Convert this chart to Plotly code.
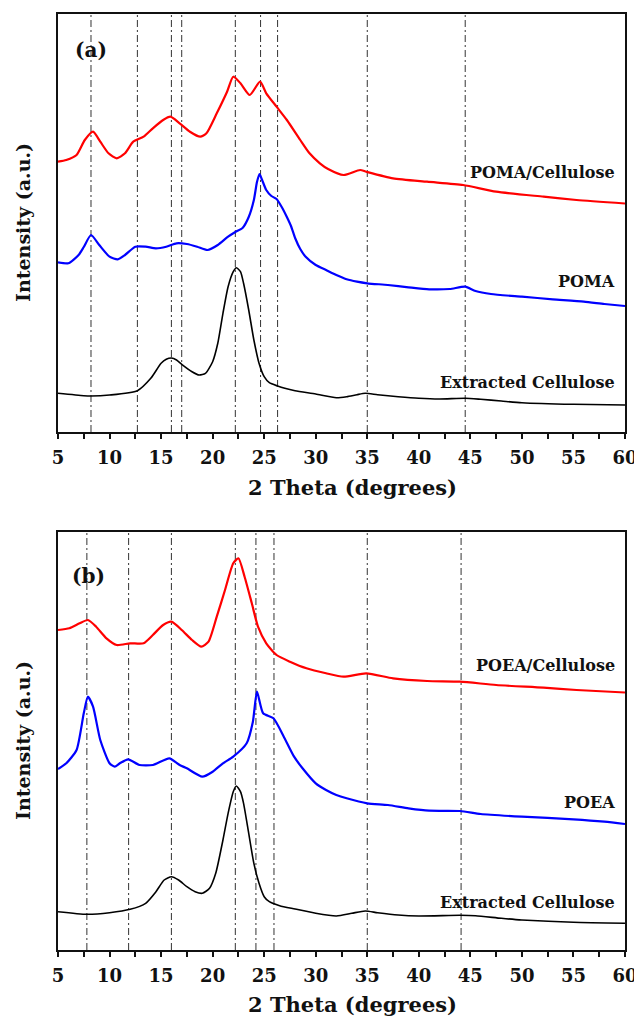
import plotly.graph_objects as go

# ---------------- data (2-theta in degrees, intensity in arbitrary units) ----------------
# Panel (a)
a_cell_x = [5, 7.5, 8.2, 10, 12.7, 14, 15, 15.5, 16, 16.5, 17, 18, 18.7, 19.3, 20, 20.5, 21, 21.5,
            22, 22.3, 22.7, 23, 23.5, 24, 24.5, 25, 25.5, 26.3, 27, 28, 30, 32, 33, 34, 34.8, 36,
            38, 40, 42, 44.5, 46, 48, 50, 55, 60]
a_cell_y = [38.7, 36.3, 36, 37, 41.3, 53.7, 68.7, 72.7, 74, 72, 67.7, 60.3, 57, 58.7, 70.3, 88.7,
            118.7, 145.3, 160.3, 164.3, 160.3, 148.7, 122, 92, 68.7, 55.3, 49.3, 46, 43.7, 41.3,
            38, 34.3, 35.3, 37.3, 38.7, 37.3, 35.3, 33.7, 33, 33.7, 32.7, 31, 29.3, 27.7, 27]

a_poma_x = [5, 6, 7, 7.5, 8.2, 9, 10, 10.8, 11.5, 12.5, 13.5, 14.5, 15.5, 16.5, 17.5, 18.5, 19.5,
            20.5, 21.5, 22.2, 22.9, 23.5, 24, 24.3, 24.55, 24.8, 25.2, 25.7, 26.2, 26.7, 27.2,
            27.6, 28, 28.5, 29, 30, 31, 32, 33, 34, 35, 37, 39, 41, 43, 44.5, 45.5, 47, 50, 53,
            56, 58, 60]
a_poma_y = [169.7, 168.7, 177, 185, 197, 187, 175.3, 172.7, 177, 185.3, 185.3, 183.7, 185.3, 188.7,
            188, 185.3, 182, 187, 195.3, 200, 204, 215, 232, 250, 258, 252, 242, 236, 233, 225,
            215, 206, 194, 183, 175.5, 167, 162, 157, 152.7, 150.3, 148.7, 147, 144.7, 142.7, 143,
            145.3, 141, 138, 135.3, 132.7, 130.3, 128, 126]

a_pomacell_x = [5, 5.8, 6.8, 7.6, 8.4, 9.1, 9.9, 10.7, 11.5, 12.3, 13.3, 14.2, 15.2, 15.9, 16.8,
                17.8, 18.8, 19.4, 20.4, 21.4, 22.0, 22.7, 23.6, 24.6, 25.2, 26.2, 27.2, 28.5,
                29.4, 30.4, 31.2, 32.7, 34.3, 34.9, 37.5, 40.8, 44.3, 47.5, 52.1, 55.3, 60]
a_pomacell_y = [270.3, 272, 277, 292, 300.3, 290.3, 278.7, 273.7, 278.7, 290.3, 295.3, 303.7, 312,
                315.3, 308.7, 300.3, 295.3, 298.7, 318.7, 340.3, 355.3, 348.7, 337, 350.3, 338.7,
                325.3, 312, 292, 278.7, 268.7, 263, 257, 262, 260.3, 253.7, 250.3, 247, 240.3,
                235.3, 232, 228.5]

# Panel (b)
b_cell_x = [5, 7.8, 10, 12, 13.5, 14.5, 15.3, 16, 16.7, 17.5, 18.3, 19, 19.7, 20.3, 21, 21.5, 22,
            22.3, 22.7, 23, 23.5, 24, 24.5, 25, 25.5, 26.5, 28, 30, 32, 33.5, 34.8, 36, 38, 40,
            44, 45.5, 48, 50, 55, 60]
b_cell_y = [38.3, 35.7, 37.3, 40.7, 46.7, 58.3, 70, 73.3, 70, 63.3, 58.3, 56.7, 61.7, 76.7, 110,
            136.7, 158.3, 164, 158.3, 146.7, 116.7, 86.7, 66.7, 53.3, 48.3, 44.3, 41, 36.7, 34,
            36.7, 39, 37.3, 35, 34, 34.7, 34.3, 31.7, 30, 27.7, 26.7]

b_poea_x = [5, 5.8, 6.8, 7.5, 7.9, 8.4, 9.1, 10.0, 10.5, 11.0, 11.8, 12.9, 14.2, 15.8, 16.8, 17.5,
            19, 20, 21, 22.0, 23.3, 23.9, 24.3, 24.9, 25.9, 26.9, 27.9, 28.7, 30, 31, 32, 33, 35,
            37, 39, 41, 44, 46, 50, 55, 58, 60]
b_poea_y = [181, 186.7, 200, 236.7, 253.3, 243.3, 210, 186.7, 183.3, 186.7, 190.7, 185, 185,
            191.7, 185, 181.7, 173.3, 178.3, 186.7, 193.3, 206.7, 228, 258.3, 236.7, 231.7,
            213.3, 193.3, 182, 166.7, 160, 155, 151.7, 146.7, 145, 141.7, 139.3, 139, 136, 133.3,
            130.7, 128.3, 126]

b_poeacell_x = [5, 6.1, 7.1, 7.9, 8.7, 9.7, 10.7, 12.0, 13.3, 14.2, 15.2, 16.0, 17.0, 18.0, 18.9,
                19.6, 20.4, 21.2, 22.0, 22.5, 23.1, 23.8, 24.4, 25.2, 26.2, 27.5, 29.1, 31.0,
                32.7, 34.9, 37.5, 40.8, 44.0, 47.5, 52.1, 55.3, 60]
b_poeacell_y = [320, 321.7, 326.7, 330, 323.3, 311.7, 305, 306.7, 306.7, 315, 325, 328.3, 320, 310,
                303.3, 308.3, 333.3, 360, 386.7, 391.7, 373.3, 346.7, 323.3, 306.7, 295, 288.3,
                281.7, 276.7, 273.3, 276.7, 271.7, 269, 268.3, 265, 262.3, 260, 257.5]

# reference peak positions (dash-dot guides)
a_peaks = [8.2, 12.7, 16.0, 17.0, 22.2, 24.65, 26.3, 35.0, 44.5]
b_peaks = [7.8, 11.85, 16.0, 22.2, 24.2, 25.95, 35.0, 44.1]

x_ticks = [5, 10, 15, 20, 25, 30, 35, 40, 45, 50, 55, 60]
x_tick_text = [str(v) for v in x_ticks]

a_labels = ["POMA/Cellulose", "POMA", "Extracted Cellulose"]
a_label_y = [259, 150, 49]
b_labels = ["POEA/Cellulose", "POEA", "Extracted Cellulose"]
b_label_y = [285, 148, 48]

# ---------------- figure ----------------
W, H = 634, 1019
FONT = "DejaVu Serif"
RED, BLUE, BLACK = "#ff0000", "#0000ff", "#000000"

fig = go.Figure()

def add_curve(x, y, color, width, xa, ya):
    fig.add_trace(go.Scatter(x=x, y=y, mode="lines", xaxis=xa, yaxis=ya,
                             line=dict(color=color, width=width, shape="spline", smoothing=0.6),
                             showlegend=False, hoverinfo="skip"))

add_curve(a_cell_x, a_cell_y, BLACK, 1.6, "x", "y")
add_curve(a_poma_x, a_poma_y, BLUE, 2.2, "x", "y")
add_curve(a_pomacell_x, a_pomacell_y, RED, 2.2, "x", "y")
add_curve(b_cell_x, b_cell_y, BLACK, 1.6, "x2", "y2")
add_curve(b_poea_x, b_poea_y, BLUE, 2.2, "x2", "y2")
add_curve(b_poeacell_x, b_poeacell_y, RED, 2.2, "x2", "y2")

shapes = []
for xr, yr, peaks in (("x", "y domain", a_peaks), ("x2", "y2 domain", b_peaks)):
    for p in peaks:
        shapes.append(dict(type="line", xref=xr, yref=yr, x0=p, x1=p, y0=0, y1=1,
                           layer="below",
                           line=dict(color="#333333", width=1, dash="7px,3px,2px,3px")))

def xaxis_cfg(anchor):
    return dict(domain=[58 / W, 625 / W], range=[5, 60], anchor=anchor,
                tickmode="array", tickvals=x_ticks, ticktext=x_tick_text,
                ticks="outside", ticklen=5, tickwidth=1.5, tickcolor="#111",
                minor=dict(tickmode="linear", tick0=5, dtick=2.5, ticks="outside",
                           ticklen=5, tickwidth=1.5, tickcolor="#111"),
                ticklabelstandoff=4, ticklabeloverflow="allow",
                tickfont=dict(family=FONT, size=18, color="#111", weight="bold"),
                showline=True, mirror=True, linecolor="#111", linewidth=1.5,
                showgrid=False, zeroline=False, automargin=False, fixedrange=True)

def yaxis_cfg(top_px, bottom_px, anchor):
    return dict(domain=[1 - bottom_px / H, 1 - top_px / H], range=[0, 418], anchor=anchor,
                showticklabels=False, ticks="", showline=True, mirror=True,
                linecolor="#111", linewidth=1.5, showgrid=False, zeroline=False,
                automargin=False, fixedrange=True)

annotations = []
bold = dict(family=FONT, color="#111", weight="bold")
for xr, yr, labels, ly in (("x", "y", a_labels, a_label_y), ("x2", "y2", b_labels, b_label_y)):
    for t, yv in zip(labels, ly):
        annotations.append(dict(text=t, x=59.2, y=yv, xref=xr, yref=yr, xanchor="right",
                                yanchor="middle", showarrow=False, font=dict(size=16, **bold)))
annotations.append(dict(text="(a)", x=8.2, y=382, xref="x", yref="y", showarrow=False,
                        xanchor="center", yanchor="middle", font=dict(size=20, **bold)))
annotations.append(dict(text="(b)", x=7.95, y=374, xref="x2", yref="y2", showarrow=False,
                        xanchor="center", yanchor="middle", font=dict(size=20, **bold)))
# axis titles
for cy_px in (487, 1004):
    annotations.append(dict(text="2 Theta (degrees)", x=352 / W, y=1 - cy_px / H,
                            xref="paper", yref="paper", showarrow=False, xanchor="center",
                            yanchor="middle", font=dict(size=21, **bold)))
for cy_px in (223, 741):
    annotations.append(dict(text="Intensity (a.u.)", x=23 / W, y=1 - cy_px / H,
                            xref="paper", yref="paper", showarrow=False, textangle=-90,
                            xanchor="center", yanchor="middle", font=dict(size=19, **bold)))

fig.update_layout(
    width=W, height=H, autosize=False,
    margin=dict(l=0, r=0, t=0, b=0, pad=0),
    paper_bgcolor="white", plot_bgcolor="white",
    xaxis=xaxis_cfg("y"),
    yaxis=yaxis_cfg(14, 432, "x"),
    xaxis2=xaxis_cfg("y2"),
    yaxis2=yaxis_cfg(532, 950, "x2"),
    shapes=shapes,
    annotations=annotations,
    showlegend=False,
)

fig.write_html(
    "out.html",
    config={"displayModeBar": False},
    post_script="document.body.style.margin='0';document.body.style.overflow='hidden';",
)
